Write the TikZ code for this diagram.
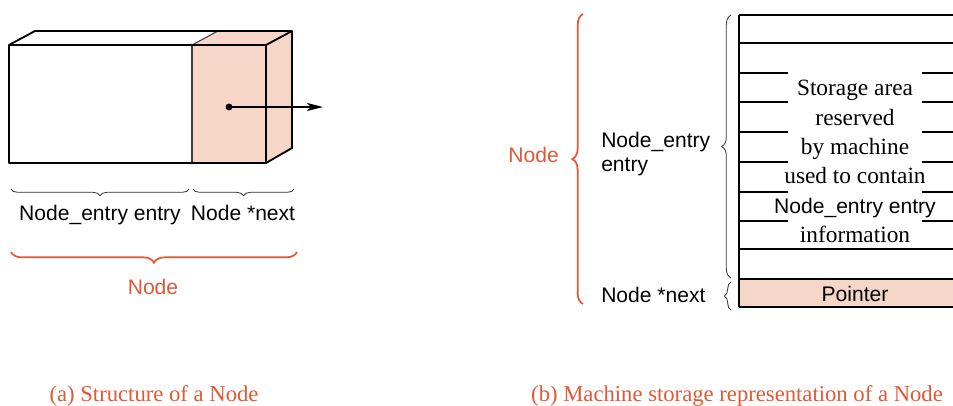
\documentclass[tikz,border=0pt]{standalone}
\usepackage{fontspec}
\setmainfont{Liberation Serif}
\setsansfont{Liberation Sans}
\usepackage{tikz}
\usetikzlibrary{positioning,arrows.meta,decorations.pathreplacing}
\definecolor{nodeorange}{RGB}{226,88,52}
\definecolor{ptrpink}{RGB}{246,214,198}

\begin{document}
\begin{tikzpicture}[x=0.75pt,y=-0.75pt,
  txt/.style={font=\fontsize{15.8}{17.5}\selectfont\sffamily,inner sep=0pt},
  cell/.style={font=\fontsize{17.5}{20}\selectfont,inner sep=0pt,anchor=mid},
  caption/.style={font=\fontsize{17}{20}\selectfont,text=nodeorange,inner sep=0pt,anchor=mid},
  boxline/.style={line width=1.4pt,line join=round},
  thinline/.style={line width=0.8pt,draw=black!75},
  brc/.style={decorate,decoration={brace,amplitude=#1},line width=0.6pt,draw=black!80},
  obrc/.style={decorate,decoration={brace,amplitude=#1},line width=1.3pt,draw=nodeorange},
  arr/.style={-{Stealth[length=12pt,width=6pt,inset=3pt]},line width=1pt}
]
\useasboundingbox (0,0) rectangle (953,405);

% ---- (a) structure of a node ----
\fill[ptrpink] (192,45) -- (218,31) -- (292,31) -- (292,148) -- (266,163) -- (192,163) -- cycle;
\draw[thinline] (192,45) -- (192,163);
\draw[thinline] (192,45) -- (218,31);
\draw[boxline] (9,45) rectangle (266,163);
\draw[boxline] (9,45) -- (35,31) -- (292,31) -- (292,148) -- (266,163);
\draw[boxline] (266,45) -- (292,31);
\coordinate (ptr) at (229,107);
\coordinate (ptrend) at (323,107);
\fill (ptr) circle (2.6pt);
\draw[arr] (ptr) -- (ptrend);

\coordinate (ebl) at (11,189);
\coordinate (ebr) at (189,189);
\coordinate (nbl) at (193,189);
\coordinate (nbr) at (294,189);
\draw[brc=5pt] (ebr) -- (ebl);
\draw[brc=5pt] (nbr) -- (nbl);
\node[txt,anchor=mid] (entrylbl) at (100,217) {Node\_entry entry};
\node[txt,anchor=mid] (nextlbl) at (243,217) {Node {*}next};
\coordinate (obl) at (11,252);
\coordinate (obr) at (297,252);
\draw[obrc=8pt] (obr) -- (obl);
\node[txt,anchor=mid,text=nodeorange] (nodelbl) at (153,291) {Node};

\node[caption] (capa) at (154,398) {(a) Structure of a Node};

% ---- (b) machine storage ----
\coordinate (otop) at (583,14);
\coordinate (obot) at (583,304);
\draw[obrc=8pt] (obot) -- (otop);
\node[txt,anchor=mid east,text=nodeorange] (nodelbl2) at (559,159) {Node};

\coordinate (etop) at (731,15);
\coordinate (ebot) at (731,278);
\coordinate (ntop) at (731,282);
\coordinate (nbot) at (731,310);
\draw[brc=7pt] (ebot) -- (etop);
\draw[brc=5pt] (nbot) -- (ntop);
\node[txt,align=left,anchor=west] (entrylbl2) at (601,154) {Node\_entry\\entry};
\node[txt,anchor=mid west] (nextlbl2) at (601,299) {Node {*}next};

% storage table
\fill[ptrpink] (739,279) rectangle (953,307);
\foreach \y in {15,43,249,279,307}
  \draw[boxline] (739,\y) -- (953,\y);
\foreach \y in {73,102,132,162,192,221} {
  \draw[boxline] (739,\y) -- (788,\y);
  \draw[boxline] (922,\y) -- (953,\y);
}
\draw[boxline] (739,15) -- (739,307);
\foreach \y/\t in {92/Storage area,122/reserved,151/by machine,180/used to contain,239/information}
  \node[cell] (row\y) at (855,\y) {\t};
\node[txt,anchor=mid] (rowent) at (855,210) {Node\_entry entry};
\node[txt,anchor=mid] (ptrcell) at (855,298) {Pointer};

\node[caption] (capb) at (737,398) {(b) Machine storage representation of a Node};

\end{tikzpicture}
\end{document}
